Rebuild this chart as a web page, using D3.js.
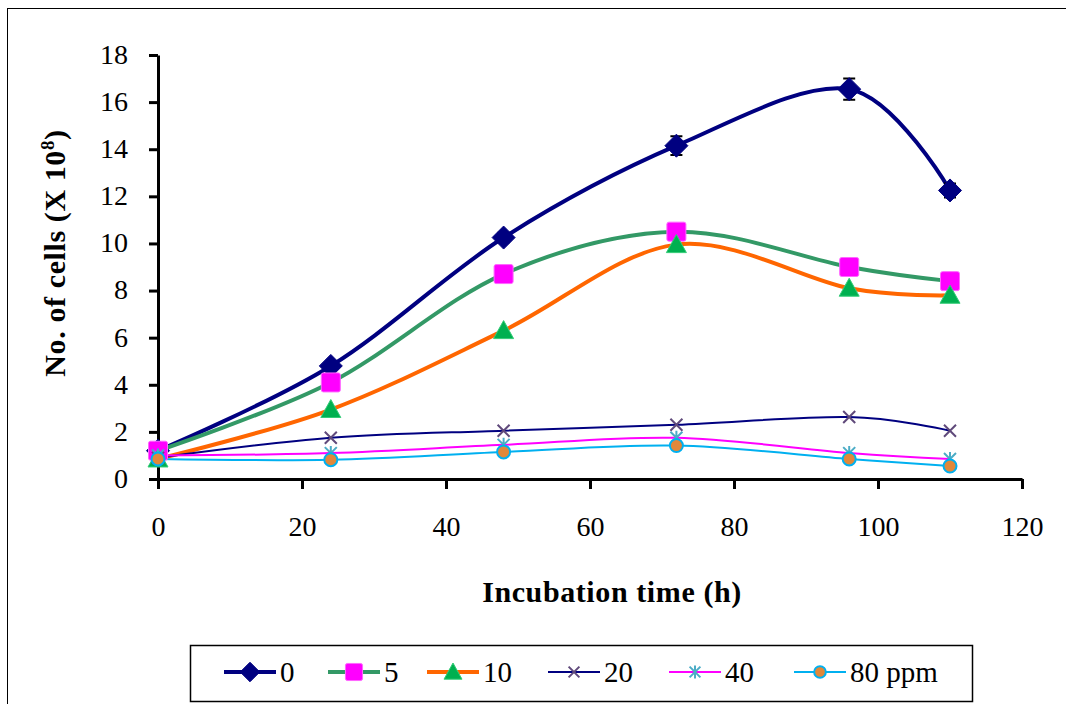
<!DOCTYPE html>
<html>
<head>
<meta charset="utf-8">
<script src="https://cdn.jsdelivr.net/npm/d3@7"></script>
<style>
  body { margin: 0; background: #fff; }
  svg text { font-family: "Liberation Serif", "Times New Roman", serif; }
</style>
</head>
<body>
<div id="chart"></div>
<script>
// data
var hours = [0, 24, 48, 72, 96, 110];
var ppm0  = [1.2, 4.8, 10.25, 14.15, 16.55, 12.25];
var ppm5  = [1.2, 4.1, 8.7, 10.5, 9.0, 8.4];
var ppm10 = [0.85, 2.95, 6.3, 9.95, 8.1, 7.8];
var ppm20 = [0.9, 1.75, 2.05, 2.3, 2.63, 2.05];
var ppm40 = [1.0, 1.1, 1.45, 1.75, 1.1, 0.85];
var ppm80 = [0.85, 0.82, 1.15, 1.42, 0.85, 0.55];
var err0  = [0.15, 0.15, 0.2, 0.4, 0.45, 0.3];
var legendNames = ["0", "5", "10", "20", "40", "80 ppm"];
var xTicks = [0, 20, 40, 60, 80, 100, 120];
var yTicks = [0, 2, 4, 6, 8, 10, 12, 14, 16, 18];

var series = [
  {name: legendNames[0], values: ppm0,  err: err0, line: "#000080", lw: 4, marker: "diamond"},
  {name: legendNames[1], values: ppm5,  line: "#339966", lw: 4, marker: "square"},
  {name: legendNames[2], values: ppm10, line: "#FF6600", lw: 4, marker: "triangle"},
  {name: legendNames[3], values: ppm20, line: "#000080", lw: 2, marker: "cross"},
  {name: legendNames[4], values: ppm40, line: "#FF00FF", lw: 2, marker: "star"},
  {name: legendNames[5], values: ppm80, line: "#00B0F0", lw: 2, marker: "circle"}
];

var width = 1066, height = 704;
var svg = d3.select("#chart").append("svg")
  .attr("width", width).attr("height", height);

// outer frame
svg.append("rect")
  .attr("x", 7.5).attr("y", 8.5)
  .attr("width", 1070).attr("height", 720)
  .attr("fill", "none").attr("stroke", "#000").attr("stroke-width", 1);

var x = d3.scaleLinear().domain([0, 120]).range([158, 1022]);
var y = d3.scaleLinear().domain([0, 18]).range([479, 55]);

// axes
var xAxis = svg.append("g")
  .attr("transform", "translate(0," + y(0) + ")")
  .call(d3.axisBottom(x).tickValues(xTicks).tickSize(10).tickSizeOuter(0).tickPadding(33));
var yAxis = svg.append("g")
  .attr("transform", "translate(" + x(0) + ",0)")
  .call(d3.axisLeft(y).tickValues(yTicks).tickSize(9).tickSizeOuter(0).tickPadding(21));

[xAxis, yAxis].forEach(function(a) {
  a.select(".domain").attr("stroke", "#000").attr("stroke-width", 3);
  a.selectAll(".tick line").attr("stroke", "#000").attr("stroke-width", 3);
  a.selectAll(".tick text")
    .attr("fill", "#000")
    .style("font-size", "28px")
    .style("font-family", "Liberation Serif, serif");
});
xAxis.selectAll(".tick text").attr("dy", "0.5em");
yAxis.selectAll(".tick text").attr("dy", "0.3em");

// axis titles
svg.append("text")
  .attr("x", 612).attr("y", 602)
  .attr("text-anchor", "middle")
  .style("font-size", "30px").style("font-weight", "bold")
  .style("letter-spacing", "0.6px")
  .text("Incubation time  (h)");

var yt = svg.append("text")
  .attr("transform", "translate(65,253) rotate(-90)")
  .attr("text-anchor", "middle")
  .style("font-size", "30px").style("font-weight", "bold")
  .style("letter-spacing", "0.6px");
yt.append("tspan").text("No. of cells (X 10");
yt.append("tspan").attr("dy", -11).style("font-size", "19px").text("8");
yt.append("tspan").attr("dy", 11).text(")");

// smooth lines like the spreadsheet's smoothed series
var line = d3.line()
  .x(function(d, i) { return x(hours[i]); })
  .y(function(d) { return y(d); })
  .curve(d3.curveCatmullRom.alpha(0));

series.forEach(function(s) {
  svg.append("path")
    .datum(s.values)
    .attr("d", line)
    .attr("fill", "none")
    .attr("stroke", s.line)
    .attr("stroke-width", s.lw);
});

function drawMarker(g, type, cx, cy, scale) {
  var k = scale || 1;
  if (type === "diamond") {
    var r = 11.5 * k;
    g.append("path")
      .attr("d", "M" + cx + "," + (cy - r) + "L" + (cx + r) + "," + cy + "L" + cx + "," + (cy + r) + "L" + (cx - r) + "," + cy + "Z")
      .attr("fill", "#000080").attr("stroke", "#000080").attr("stroke-width", 1).attr("stroke-linejoin", "round");
  } else if (type === "square") {
    var h = 9.5 * k;
    g.append("rect")
      .attr("x", cx - h).attr("y", cy - h).attr("width", 2 * h).attr("height", 2 * h)
      .attr("rx", 2)
      .attr("fill", "#FF00FF").attr("stroke", "#FF66FF").attr("stroke-width", 1);
  } else if (type === "triangle") {
    var t = 10 * k;
    g.append("path")
      .attr("d", "M" + cx + "," + (cy - t) + "L" + (cx + t) + "," + (cy + t * 0.8) + "L" + (cx - t) + "," + (cy + t * 0.8) + "Z")
      .attr("fill", "#00B050").attr("stroke", "#33CC77").attr("stroke-width", 1);
  } else if (type === "cross") {
    var c = 6 * k;
    g.append("path")
      .attr("d", "M" + (cx - c) + "," + (cy - c) + "L" + (cx + c) + "," + (cy + c) + "M" + (cx - c) + "," + (cy + c) + "L" + (cx + c) + "," + (cy - c))
      .attr("stroke", "#604A7B").attr("stroke-width", 2);
  } else if (type === "star") {
    var a = 6 * k;
    g.append("path")
      .attr("d", "M" + (cx - a) + "," + (cy - a) + "L" + (cx + a) + "," + (cy + a) + "M" + (cx - a) + "," + (cy + a) + "L" + (cx + a) + "," + (cy - a) + "M" + cx + "," + (cy - a - 1) + "L" + cx + "," + (cy + a + 1))
      .attr("stroke", "#4BACC6").attr("stroke-width", 2);
  } else if (type === "circle") {
    g.append("circle")
      .attr("cx", cx).attr("cy", cy).attr("r", 6.5 * k)
      .attr("fill", "#E0883A").attr("stroke", "#00B0F0").attr("stroke-width", 2);
  }
}

// error bars for the control series
var eb = svg.append("g");
series.forEach(function(s) {
  if (!s.err) return;
  s.values.forEach(function(v, i) {
    var cx = x(hours[i]);
    eb.append("path")
      .attr("d", "M" + cx + "," + y(v - s.err[i]) + "L" + cx + "," + y(v + s.err[i]) +
        "M" + (cx - 6) + "," + y(v - s.err[i]) + "L" + (cx + 6) + "," + y(v - s.err[i]) +
        "M" + (cx - 6) + "," + y(v + s.err[i]) + "L" + (cx + 6) + "," + y(v + s.err[i]))
      .attr("stroke", "#000").attr("stroke-width", 2).attr("fill", "none");
  });
});

// markers
series.forEach(function(s) {
  var g = svg.append("g");
  s.values.forEach(function(v, i) {
    drawMarker(g, s.marker, x(hours[i]), y(v));
  });
});

// legend
var legend = svg.append("g");
legend.append("rect")
  .attr("x", 190.5).attr("y", 645.5).attr("width", 782).attr("height", 56)
  .attr("fill", "#fff").attr("stroke", "#000").attr("stroke-width", 1.5);

var legendX = [224, 328, 427, 548, 669, 794];
series.forEach(function(s, i) {
  var lx = legendX[i], ly = 672;
  legend.append("line")
    .attr("x1", lx).attr("x2", lx + 52).attr("y1", ly).attr("y2", ly)
    .attr("stroke", s.line).attr("stroke-width", s.lw);
  drawMarker(legend, s.marker, lx + 26, ly, s.marker === "diamond" ? 0.85 : 0.9);
  legend.append("text")
    .attr("x", lx + 56).attr("y", ly + 10)
    .style("font-size", "29px")
    .text(s.name);
});
</script>
</body>
</html>
